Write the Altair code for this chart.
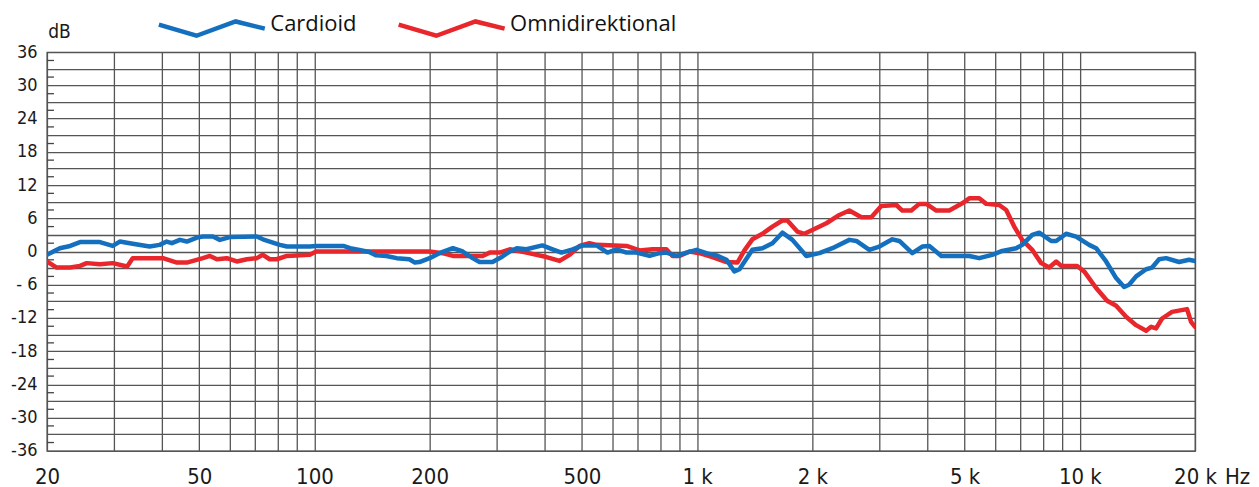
import altair as alt
import pandas as pd

# ---- data ----
cardioid_hz = [20, 21.6, 23.0, 24.4, 27.5, 29.7, 31.0, 33.5, 37.1, 39.4, 41.1, 42.4, 44.5, 46.4, 49.3,
               51.1, 54.3, 56.6, 60.1, 70.7, 73.3, 81.2, 84.7, 97.2, 101, 119, 124, 131, 139, 145,
               154, 164, 177, 183, 188, 200, 212, 230, 244, 259, 270, 292, 310, 324, 338, 358,
               394, 419, 442, 473, 502, 546, 583, 616, 654, 694, 751, 797, 831, 883, 938, 996,
               1057, 1123, 1193, 1251, 1290, 1394, 1481, 1573, 1670, 1774, 1929, 2086, 2256, 2498,
               2606, 2818, 2992, 3236, 3376, 3649, 3875, 4043, 4346, 5140, 5458, 5902, 6268, 6818,
               7070, 7508, 7831, 8417, 8674, 9211, 9780, 10576, 11030, 11712, 12440, 13052, 13448,
               14028, 14900, 15448, 16108, 16800, 18166, 19290, 20000]
cardioid_db = [-0.6, 0.6, 1.0, 1.7, 1.7, 1.0, 1.8, 1.4, 0.9, 1.2, 1.8, 1.5, 2.1, 1.8, 2.5,
               2.7, 2.7, 2.1, 2.6, 2.7, 2.2, 1.2, 0.9, 0.9, 1.0, 1.0, 0.6, 0.3, -0.1, -0.7,
               -0.8, -1.2, -1.4, -2.0, -1.9, -1.2, -0.3, 0.6, 0.0, -1.2, -1.9, -1.9, -0.9, 0.0, 0.6, 0.4,
               1.1, 0.4, -0.2, 0.4, 1.1, 1.1, -0.2, 0.4, -0.2, -0.2, -0.8, -0.3, -0.2, -0.8, -0.2, 0.3,
               -0.3, -0.7, -1.5, -3.6, -3.2, 0.3, 0.6, 1.5, 3.4, 2.1, -0.8, -0.3, 0.6, 2.1,
               1.9, 0.3, 0.9, 2.2, 1.9, -0.3, 0.9, 1.0, -0.8, -0.8, -1.2, -0.6, 0.1, 0.6,
               1.2, 3.0, 3.4, 1.9, 1.9, 3.2, 2.7, 1.2, 0.6, -1.8, -4.8, -6.4, -6.0,
               -4.5, -3.2, -2.9, -1.4, -1.2, -1.9, -1.5, -1.7]

omni_hz = [20, 21.2, 23.0, 24.4, 25.4, 27.5, 29.7, 32.4, 33.5, 40.2, 43.7, 46.4, 51.1, 53.3, 55.6,
           59.0, 62.7, 66.6, 70.7, 73.3, 76.4, 79.7, 84.7, 97.2, 101, 200, 216, 230, 275, 287,
           305, 324, 358, 404, 437, 464, 493, 523, 546, 654, 707, 764, 831, 862, 899, 955,
           1014, 1096, 1193, 1274, 1329, 1394, 1481, 1573, 1670, 1721, 1827, 1906, 2000, 2176,
           2353, 2498, 2686, 2851, 3028, 3315, 3436, 3627, 3805, 3970, 4217, 4559, 4929, 5140,
           5458, 5694, 6156, 6420, 6737, 7070, 7508, 7925, 8317, 8674, 8938, 9840, 10264, 11030,
           11784, 12440, 13208, 14028, 14900, 15354, 15822, 16400, 17418, 19060, 19526, 20000]
omni_db = [-1.8, -2.9, -2.9, -2.6, -2.1, -2.3, -2.1, -2.7, -1.2, -1.2, -2.0, -2.0, -1.2, -0.8, -1.4,
           -1.2, -1.8, -1.4, -1.2, -0.6, -1.4, -1.4, -0.8, -0.6, 0.0, 0.0, -0.3, -0.8, -0.8, -0.2,
           -0.2, 0.4, -0.2, -1.0, -1.7, -0.6, 1.0, 1.5, 1.2, 1.0, 0.2, 0.4, 0.4, -0.8, -0.8, 0.0,
           -0.3, -1.0, -1.9, -2.0, 0.2, 2.2, 3.2, 4.5, 5.6, 5.6, 3.6, 3.2, 3.9, 5.1,
           6.6, 7.4, 6.2, 6.2, 8.2, 8.4, 7.4, 7.4, 8.6, 8.6, 7.4, 7.4, 8.7, 9.6,
           9.6, 8.6, 8.4, 7.5, 4.5, 2.1, 0.3, -2.1, -2.9, -1.8, -2.6, -2.6, -3.6, -6.6,
           -8.9, -9.8, -11.8, -13.3, -14.3, -13.6, -13.9, -12.1, -10.9, -10.4, -12.7, -13.6]

series_names = ["Cardioid", "Omnidirektional"]
series_colors = ["#1470be", "#e8262b"]

x_grid = [20, 30, 40, 50, 60, 70, 80, 90, 100, 200, 300, 400, 500, 600, 700, 800, 900,
          1000, 2000, 3000, 4000, 5000, 6000, 7000, 8000, 9000, 10000, 20000]
x_label_values = [20, 50, 100, 200, 500, 1000, 2000, 5000, 10000, 20000]
x_label_texts = ["20", "50", "100", "200", "500", "1 k", "2 k", "5 k", "10 k", "20 k"]
y_grid = list(range(-36, 37, 3))
y_minor_ticks = [-34.5, -31.5, -28.5, -25.5, -22.5, -19.5, -16.5, -13.5, -10.5, -7.5, -4.5, -1.5,
                 1.5, 4.5, 7.5, 10.5, 13.5, 16.5, 19.5, 22.5, 25.5, 28.5, 31.5, 34.5]

# ---- chart ----
NARROW = "Liberation Sans Narrow, Arial Narrow, DejaVu Sans Condensed, sans-serif"
GRID = "#555555"

x_expr = ""
for v, t in zip(x_label_values, x_label_texts):
    x_expr += f"datum.value == {v} ? '{t}' : "
x_expr += "''"
y_expr = "datum.value % 6 == 0 ? (datum.value == -6 ? '- 6' : '' + datum.value) : ''"

x_scale = alt.Scale(type="log", domain=[20, 20000], nice=False)
y_scale = alt.Scale(domain=[-36, 36], nice=False, zero=False)

x_axis = alt.Axis(values=x_grid, labelExpr=x_expr, grid=True, gridColor=GRID, gridWidth=1.3,
                  gridOpacity=1, ticks=False, tickSize=0, domain=False, labelFont=NARROW,
                  labelFontSize=22, labelColor="#1a1a1a", labelPadding=26, labelBaseline="middle",
                  labelFlush=False, labelOverlap=False, title="Hz", titleX=1191, titleY=26,
                  titleAlign="center", titleBaseline="middle", titleFont=NARROW, titleFontSize=22,
                  titleFontWeight="normal", titleColor="#1a1a1a")
y_axis = alt.Axis(values=y_grid, labelExpr=y_expr, grid=True, gridColor=GRID, gridWidth=1.3,
                  gridOpacity=1, ticks=False, tickSize=0, domain=False, labelFont=NARROW,
                  labelFontSize=18, labelColor="#1a1a1a", labelPadding=10, labelAlign="right",
                  labelBaseline="middle", labelFlush=False, labelOverlap=False, title="dB",
                  titleAngle=0, titleX=12, titleY=-21, titleAlign="center", titleBaseline="middle",
                  titleFont=NARROW, titleFontSize=19, titleFontWeight="normal", titleColor="#1a1a1a")

legend = alt.Legend(orient="none", legendX=109.5, legendY=-84, direction="horizontal", title=None,
                    symbolType="M-1,0.01L-0.29,0.22L0.45,-0.05L1,0.085", symbolSize=11236,
                    symbolStrokeWidth=4.5, symbolFillColor="transparent", labelFont="Open Sans",
                    labelFontSize=22, labelColor="#111111", labelOffset=3, columnPadding=32,
                    padding=0, offset=0, labelLimit=400)

color = alt.Color("series:N", scale=alt.Scale(domain=series_names, range=series_colors), legend=legend)

df_c = pd.DataFrame({"hz": cardioid_hz, "db": cardioid_db, "series": series_names[0]})
df_o = pd.DataFrame({"hz": omni_hz, "db": omni_db, "series": series_names[1]})
df_t = pd.DataFrame({"db": y_minor_ticks})

ticks = alt.Chart(df_t).mark_rule(color="#444444", strokeWidth=1.3).encode(
    x=alt.value(0), x2=alt.value(7), y=alt.Y("db:Q", scale=y_scale, axis=y_axis))

def line(df):
    return alt.Chart(df).mark_line(strokeWidth=4.5, strokeJoin="round", strokeCap="round", clip=True).encode(
        x=alt.X("hz:Q", scale=x_scale, axis=x_axis),
        y=alt.Y("db:Q", scale=y_scale, axis=y_axis),
        color=color,
    )

chart = alt.layer(ticks, line(df_o), line(df_c)).properties(
    width=1149, height=399,
    autosize=alt.AutoSizeParams(type="none"),
    padding={"left": 39, "top": 44, "right": 56, "bottom": 48},
    background="white",
).configure_view(stroke="#444444", strokeWidth=1.3)

chart.save("out.html", embed_options={"renderer": "svg", "actions": False})
